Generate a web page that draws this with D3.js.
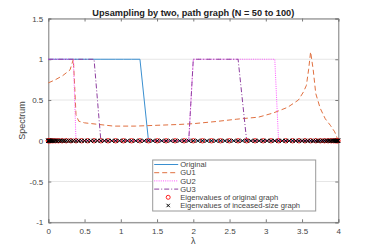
<!DOCTYPE html>
<html>
<head>
<meta charset="utf-8">
<script src="https://cdn.jsdelivr.net/npm/d3@7"></script>
<style>
  body { margin: 0; background: #fff; }
  svg { display: block; font-family: "Liberation Sans", Arial, sans-serif; }
</style>
</head>
<body>
<svg id="chart"></svg>
<script>
// eigenvalues of the path graph, N = 50 (original) and N = 100 (increased size)
const eigOriginal = [0, 0.004, 0.016, 0.035, 0.063, 0.098, 0.140, 0.190, 0.247, 0.311,
  0.382, 0.459, 0.542, 0.631, 0.725, 0.824, 0.928, 1.036, 1.148, 1.264,
  1.382, 1.503, 1.625, 1.749, 1.874, 2.000, 2.126, 2.251, 2.375, 2.497,
  2.618, 2.736, 2.852, 2.964, 3.072, 3.176, 3.275, 3.369, 3.458, 3.541,
  3.618, 3.689, 3.753, 3.810, 3.860, 3.902, 3.937, 3.965, 3.984, 3.996];
const eigUpsampled = [0, 0.001, 0.004, 0.009, 0.016, 0.025, 0.035, 0.048, 0.063, 0.079,
  0.098, 0.118, 0.140, 0.164, 0.190, 0.218, 0.247, 0.279, 0.311, 0.346,
  0.382, 0.420, 0.459, 0.500, 0.542, 0.586, 0.631, 0.677, 0.725, 0.774,
  0.824, 0.876, 0.928, 0.982, 1.036, 1.092, 1.148, 1.206, 1.264, 1.323,
  1.382, 1.442, 1.503, 1.564, 1.625, 1.687, 1.749, 1.812, 1.874, 1.937,
  2.000, 2.063, 2.126, 2.188, 2.251, 2.313, 2.375, 2.436, 2.497, 2.558,
  2.618, 2.677, 2.736, 2.794, 2.852, 2.908, 2.964, 3.018, 3.072, 3.124,
  3.176, 3.226, 3.275, 3.323, 3.369, 3.414, 3.458, 3.500, 3.541, 3.580,
  3.618, 3.654, 3.689, 3.721, 3.753, 3.782, 3.810, 3.836, 3.860, 3.882,
  3.902, 3.921, 3.937, 3.952, 3.965, 3.975, 3.984, 3.991, 3.996, 3.999];

// original spectrum sampled on eigOriginal
const originalValues = [1, 1, 1, 1, 1, 1, 1, 1, 1, 1, 1, 1, 1, 1, 1, 1, 1, 1, 1, 1,
  0, 0, 0, 0, 0, 0, 0, 0, 0, 0, 0, 0, 0, 0, 0, 0, 0, 0, 0, 0,
  0, 0, 0, 0, 0, 0, 0, 0, 0, 0];

const gu1Lambda = [0, 0.1, 0.2, 0.3, 0.346, 0.382, 0.42, 0.5, 0.7, 0.9, 1.2, 1.5, 1.8, 2.0,
  2.3, 2.6, 2.9, 3.1, 3.3, 3.45, 3.52, 3.56, 3.59, 3.618, 3.654, 3.689, 3.75, 3.82, 3.89, 3.95, 4.0];
const gu1Values = [0.71, 0.75, 0.80, 0.87, 1.0, 0.32, 0.24, 0.22, 0.20, 0.18, 0.18, 0.19, 0.20, 0.21,
  0.235, 0.265, 0.29, 0.34, 0.41, 0.50, 0.60, 0.68, 0.87, 1.09, 0.87, 0.58, 0.40, 0.27, 0.19, 0.11, 0.0];

const gu2Lambda = [0, 0.346, 0.382, 1.937, 2.0, 3.124, 3.176, 4];
const gu2Values = [1, 1, 0, 0, 1, 1, 0, 0];

const gu3Lambda = [0, 0.631, 0.725, 1.937, 2.0, 2.618, 2.736, 4];
const gu3Values = [1, 1, 0, 0, 1, 1, 0, 0];

const xTicks = [0, 0.5, 1, 1.5, 2, 2.5, 3, 3.5, 4];
const yTicks = [-1, -0.5, 0, 0.5, 1, 1.5];

const width = 374, height = 250;
const margin = {top: 18.5, right: 35.7, bottom: 27.7, left: 48.3};

const svg = d3.select('#chart')
  .attr('width', width)
  .attr('height', height);

const x = d3.scaleLinear().domain([0, 4]).range([margin.left, width - margin.right]);
const y = d3.scaleLinear().domain([-1, 1.5]).range([height - margin.bottom, margin.top]);

const axisColor = '#7a7a7a';
const textColor = '#444';
const plainFormat = d => String(d);

// y grid lines
svg.append('g')
  .selectAll('line')
  .data(yTicks)
  .enter().append('line')
  .attr('x1', x(0)).attr('x2', x(4))
  .attr('y1', d => y(d)).attr('y2', d => y(d))
  .attr('stroke', '#e6e6e6')
  .attr('stroke-width', 1);

// axes (ticks inward, box)
const gx = svg.append('g')
  .attr('transform', 'translate(0,' + y(-1) + ')')
  .call(d3.axisBottom(x).tickValues(xTicks).tickSize(-3).tickPadding(6).tickFormat(plainFormat));
const gxTop = svg.append('g')
  .attr('transform', 'translate(0,' + y(1.5) + ')')
  .call(d3.axisTop(x).tickValues(xTicks).tickSize(-3).tickFormat(''));
const gy = svg.append('g')
  .attr('transform', 'translate(' + x(0) + ',0)')
  .call(d3.axisLeft(y).tickValues(yTicks).tickSize(-3).tickPadding(5).tickFormat(plainFormat));
const gyRight = svg.append('g')
  .attr('transform', 'translate(' + x(4) + ',0)')
  .call(d3.axisRight(y).tickValues(yTicks).tickSize(-3).tickFormat(''));

[gx, gxTop, gy, gyRight].forEach(g => {
  g.select('.domain').attr('stroke', axisColor).attr('stroke-width', 1);
  g.selectAll('.tick line').attr('stroke', axisColor);
  g.selectAll('text').attr('fill', textColor).style('font-size', '8px');
});

// curves
const line = d3.line().x(d => x(d[0])).y(d => y(d[1]));

const series = [
  {name: 'Original', lam: eigOriginal, val: originalValues, color: '#3a8fd0', dash: null},
  {name: 'GU1', lam: gu1Lambda, val: gu1Values, color: '#e07040', dash: '5,3'},
  {name: 'GU2', lam: gu2Lambda, val: gu2Values, color: '#ff55ff', dash: '1,1.2'},
  {name: 'GU3', lam: gu3Lambda, val: gu3Values, color: '#8e3fa0', dash: '5,2,1,2'}
];

series.forEach(s => {
  svg.append('path')
    .datum(s.lam.map((l, i) => [l, s.val[i]]))
    .attr('d', line)
    .attr('fill', 'none')
    .attr('stroke', s.color)
    .attr('stroke-width', 1)
    .attr('stroke-dasharray', s.dash);
});

// eigenvalue markers
svg.append('g')
  .selectAll('circle')
  .data(eigOriginal)
  .enter().append('circle')
  .attr('cx', d => x(d))
  .attr('cy', y(0))
  .attr('r', 2.2)
  .attr('fill', 'none')
  .attr('stroke', '#ff2020')
  .attr('stroke-width', 1);

const cross = 2;
function crossPath(cx, cy) {
  return 'M' + (cx - cross) + ',' + (cy - cross) + 'L' + (cx + cross) + ',' + (cy + cross) +
    'M' + (cx - cross) + ',' + (cy + cross) + 'L' + (cx + cross) + ',' + (cy - cross);
}
svg.append('g')
  .selectAll('path')
  .data(eigUpsampled)
  .enter().append('path')
  .attr('d', d => crossPath(x(d), y(0)))
  .attr('stroke', '#000')
  .attr('stroke-width', 1);

// title and labels
svg.append('text')
  .attr('x', (x(0) + x(4)) / 2)
  .attr('y', 16)
  .attr('text-anchor', 'middle')
  .attr('fill', '#222')
  .style('font-size', '9.2px')
  .style('font-weight', 'bold')
  .text('Upsampling by two, path graph (N = 50 to 100)');

svg.append('text')
  .attr('x', (x(0) + x(4)) / 2)
  .attr('y', 244)
  .attr('text-anchor', 'middle')
  .attr('fill', textColor)
  .style('font-size', '9px')
  .text('λ');

svg.append('text')
  .attr('transform', 'translate(25,' + y(0.25) + ') rotate(-90)')
  .attr('text-anchor', 'middle')
  .attr('fill', textColor)
  .style('font-size', '9px')
  .text('Spectrum');

// legend
const legend = svg.append('g').attr('transform', 'translate(152.7,160)');
legend.append('rect')
  .attr('width', 163).attr('height', 51)
  .attr('fill', '#fff')
  .attr('stroke', '#999')
  .attr('stroke-width', 1);

const legendItems = series.map(s => ({label: s.name, type: 'line', s: s}))
  .concat([
    {label: 'Eigenvalues of original graph', type: 'circle'},
    {label: 'Eigenvalues of inceased-size graph', type: 'cross'}
  ]);

legendItems.forEach((item, i) => {
  const cy = 4.5 + i * 8.2;
  if (item.type === 'line') {
    legend.append('line')
      .attr('x1', 1.5).attr('x2', 25.5)
      .attr('y1', cy).attr('y2', cy)
      .attr('stroke', item.s.color)
      .attr('stroke-width', 1)
      .attr('stroke-dasharray', item.s.dash);
  } else if (item.type === 'circle') {
    legend.append('circle')
      .attr('cx', 15.5).attr('cy', cy).attr('r', 2)
      .attr('fill', 'none').attr('stroke', '#ff2020').attr('stroke-width', 1);
  } else {
    legend.append('path')
      .attr('d', 'M13.8,' + (cy - 1.7) + 'L17.2,' + (cy + 1.7) + 'M13.8,' + (cy + 1.7) + 'L17.2,' + (cy - 1.7))
      .attr('stroke', '#000').attr('stroke-width', 1);
  }
  legend.append('text')
    .attr('x', 27.5)
    .attr('y', cy + 2.6)
    .attr('fill', textColor)
    .style('font-size', '7.6px')
    .text(item.label);
});
</script>
</body>
</html>
